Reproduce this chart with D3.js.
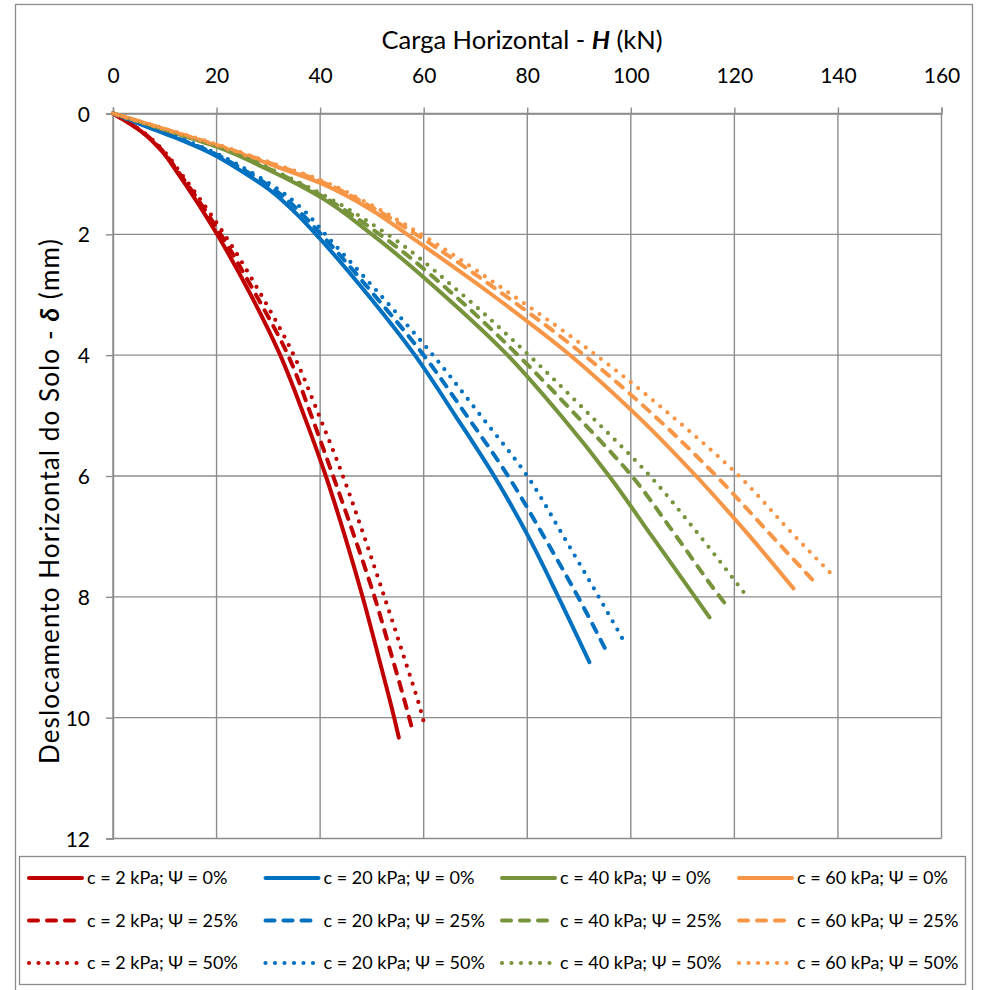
<!DOCTYPE html>
<html>
<head>
<meta charset="utf-8">
<script src="https://cdn.jsdelivr.net/npm/d3@7/dist/d3.min.js"></script>
<style>
  html, body { margin: 0; padding: 0; background: #ffffff; }
  svg { display: block; }
  text { font-family: Lato, "Open Sans", sans-serif; fill: #000; }
</style>
</head>
<body>
<svg id="chart" width="981" height="990"></svg>
<script>
// Axis ticks
const xTicks = [0, 20, 40, 60, 80, 100, 120, 140, 160];
const yTicks = [0, 2, 4, 6, 8, 10, 12];

// Load–displacement curves: [H (kN), δ (mm)]
const c2_psi0  = [[0,0],[5.5,0.3],[9.4,0.62],[12.6,1],[16.5,1.5],[20.1,2],[26.6,3],[32.3,4],[36.9,5],[41.1,6],[44.8,7],[48.2,8],[51.3,9],[54.3,10],[55.2,10.33]];
const c2_psi25 = [[0,0],[5.6,0.3],[9.6,0.62],[12.9,1],[17,1.5],[20.8,2],[27.6,3],[33.8,4],[38.3,5],[42.5,6],[46.6,7],[50.5,8],[53.9,9],[57.2,10],[58.0,10.26]];
const c2_psi50 = [[0,0],[5.7,0.3],[9.8,0.62],[13.2,1],[17.5,1.5],[21.5,2],[28.6,3],[34.9,4],[39.8,5],[44.4,6],[48.5,7],[52.4,8],[56.2,9],[59.8,10],[60.2,10.14]];

const c20_psi0  = [[0,0],[6,0.2],[12.3,0.41],[18.7,0.65],[25.1,0.97],[30.8,1.3],[35.3,1.65],[39.2,2],[49.2,3],[58.3,4],[66.1,5],[73.6,6],[80.2,7],[86,8],[92,9.08]];
const c20_psi25 = [[0,0],[6.1,0.2],[12.5,0.41],[19,0.64],[25.6,0.95],[31.5,1.28],[36.1,1.63],[40.2,2],[50.4,3],[60,4],[68.3,5],[76.3,6],[83.2,7],[89.8,8],[95,8.85]];
const c20_psi50 = [[0,0],[6.2,0.2],[12.6,0.4],[19.2,0.63],[26,0.94],[32,1.26],[36.8,1.6],[41,2],[51.6,3],[61.8,4],[71,5],[80,6],[87,7],[93.8,8],[98.9,8.77]];

const c40_psi0  = [[0,0],[10,0.27],[20,0.55],[30,0.93],[40,1.38],[50,2],[63.8,3],[76.2,4],[86.5,5],[95.8,6],[104.1,7],[112.4,8],[115.2,8.34]];
const c40_psi25 = [[0,0],[10,0.27],[20,0.54],[30,0.91],[40,1.35],[51.5,2],[65.8,3],[78.2,4],[89.5,5],[100.2,6],[108.8,7],[117.2,8],[118.2,8.11]];
const c40_psi50 = [[0,0],[10,0.27],[20,0.53],[30,0.90],[40,1.32],[53,2],[67.5,3],[80.3,4],[92.2,5],[103.7,6],[113.4,7],[122.2,7.97]];

const c60_psi0  = [[0,0],[10,0.26],[20,0.53],[30,0.83],[40,1.15],[50,1.6],[56.8,2],[73.2,3],[88.3,4],[101.2,5],[112.6,6],[123,7],[131.4,7.86]];
const c60_psi25 = [[0,0],[10,0.26],[20,0.52],[30,0.81],[40,1.12],[50,1.55],[58.5,2],[75.5,3],[91,4],[104.5,5],[116.5,6],[127.3,7],[135.2,7.73]];
const c60_psi50 = [[0,0],[10,0.25],[20,0.51],[30,0.80],[40,1.10],[50,1.52],[59.5,2],[77,3],[93.3,4],[107.8,5],[120.9,6],[131.7,7],[138.5,7.6]];

const seriesNames = [
  "c = 2 kPa; Ψ = 0%", "c = 20 kPa; Ψ = 0%", "c = 40 kPa; Ψ = 0%", "c = 60 kPa; Ψ = 0%",
  "c = 2 kPa; Ψ = 25%", "c = 20 kPa; Ψ = 25%", "c = 40 kPa; Ψ = 25%", "c = 60 kPa; Ψ = 25%",
  "c = 2 kPa; Ψ = 50%", "c = 20 kPa; Ψ = 50%", "c = 40 kPa; Ψ = 50%", "c = 60 kPa; Ψ = 50%"
];
const seriesData = [
  c2_psi0, c20_psi0, c40_psi0, c60_psi0,
  c2_psi25, c20_psi25, c40_psi25, c60_psi25,
  c2_psi50, c20_psi50, c40_psi50, c60_psi50
];

const colors = ["#C00000", "#0070C0", "#77933C", "#F79646"];
// solid / dashed / round-dotted strokes
const styles = [
  { dash: null,  width: 4,   legendLen: 53 },
  { dash: "9,9", width: 4,   legendLen: 45 },
  { dash: "0,9.5", width: 4.2, legendLen: 48 }
];

const svg = d3.select("#chart");

// Outer chart frame
svg.append("rect")
  .attr("x", 15.5).attr("y", 4.5).attr("width", 957).attr("height", 990)
  .attr("fill", "#fff").attr("stroke", "#8c8c8c").attr("stroke-width", 1.3);

const x = d3.scaleLinear().domain([0, 160]).range([113, 941.5]);
const y = d3.scaleLinear().domain([0, 12]).range([113.5, 838.5]);

const gridColor = "#8c8c8c";

// Grid lines
const grid = svg.append("g");
grid.selectAll("line.v").data(xTicks).join("line")
  .attr("x1", d => x(d)).attr("x2", d => x(d))
  .attr("y1", y(0)).attr("y2", y(12))
  .attr("stroke", gridColor).attr("stroke-width", 1.4);
grid.selectAll("line.h").data(yTicks).join("line")
  .attr("x1", x(0)).attr("x2", x(160))
  .attr("y1", d => y(d)).attr("y2", d => y(d))
  .attr("stroke", gridColor).attr("stroke-width", 1.4);

// Axes (ticks outside the plot, labels)
const xAxis = d3.axisTop(x).tickValues(xTicks).tickSize(6).tickFormat(d3.format("d"));
const yAxis = d3.axisLeft(y).tickValues(yTicks).tickSize(7).tickPadding(16).tickFormat(d3.format("d"));

const gx = svg.append("g").attr("transform", `translate(0,${y(0)})`).call(xAxis);
const gy = svg.append("g").attr("transform", `translate(${x(0)},0)`).call(yAxis);
[gx, gy].forEach(g => {
  g.select(".domain").attr("stroke", gridColor).attr("stroke-width", 1.4);
  g.selectAll(".tick line").attr("stroke", gridColor).attr("stroke-width", 1.4);
  g.selectAll(".tick text").attr("font-size", 21).attr("font-family", "Lato, sans-serif").attr("fill", "#000");
});
gx.selectAll(".tick text").attr("dy", 0).attr("y", -31);
gy.selectAll(".tick text").attr("dy", "0.36em");

// Axis titles
const xTitle = svg.append("text")
  .attr("x", 522).attr("y", 49).attr("text-anchor", "middle").attr("font-size", 25.5);
xTitle.append("tspan").text("Carga Horizontal - ");
xTitle.append("tspan").attr("font-weight", "bold").attr("font-style", "italic").text("H");
xTitle.append("tspan").text(" (kN)");

const yTitle = svg.append("text")
  .attr("transform", "translate(59,501) rotate(-90)")
  .attr("text-anchor", "middle").attr("font-size", 26).attr("letter-spacing", 1.1);
yTitle.append("tspan").text("Deslocamento Horizontal do Solo - ");
yTitle.append("tspan").attr("font-weight", "bold").attr("font-style", "italic").text("δ");
yTitle.append("tspan").text(" (mm)");

// Curves
const line = d3.line()
  .x(d => x(d[0])).y(d => y(d[1]))
  .curve(d3.curveMonotoneY);

const plot = svg.append("g");
seriesData.forEach((data, i) => {
  const col = colors[i % 4];
  const st = styles[Math.floor(i / 4)];
  plot.append("path")
    .datum(data)
    .attr("d", line)
    .attr("fill", "none")
    .attr("stroke", col)
    .attr("stroke-width", st.width)
    .attr("stroke-linecap", "round")
    .attr("stroke-linejoin", "round")
    .attr("stroke-dasharray", st.dash);
});

// Legend
const legend = svg.append("g");
legend.append("rect")
  .attr("x", 19.5).attr("y", 856.5).attr("width", 946).attr("height", 128)
  .attr("fill", "#fff").attr("stroke", "#8c8c8c").attr("stroke-width", 1.3);

const colX = [27, 263.5, 500, 737];
const rowY = [878, 920.5, 963];
seriesNames.forEach((name, i) => {
  const c = i % 4, r = Math.floor(i / 4);
  const st = styles[r];
  const x0 = colX[c], yy = rowY[r];
  legend.append("line")
    .attr("x1", x0 + 2).attr("x2", x0 + 2 + st.legendLen)
    .attr("y1", yy).attr("y2", yy)
    .attr("stroke", colors[c])
    .attr("stroke-width", st.width)
    .attr("stroke-linecap", "round")
    .attr("stroke-dasharray", st.dash);
  legend.append("text")
    .attr("x", x0 + 60).attr("y", yy).attr("dy", "0.35em")
    .attr("font-size", 18)
    .text(name);
});
</script>
</body>
</html>
